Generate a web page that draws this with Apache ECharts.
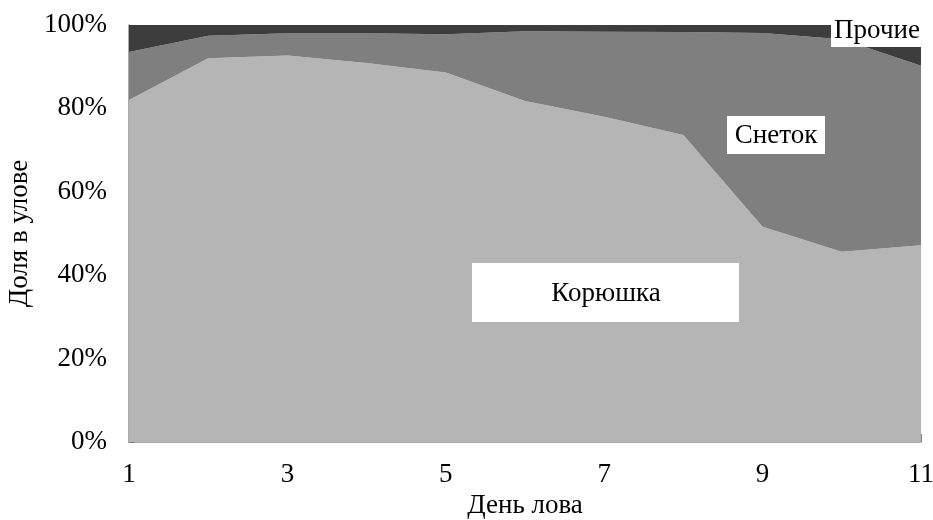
<!DOCTYPE html>
<html>
<head>
<meta charset="utf-8">
<script src="https://cdn.jsdelivr.net/npm/echarts@6/dist/echarts.min.js"></script>
<style>html,body{margin:0;padding:0;background:#fff}#c{width:933px;height:520px}</style>
</head>
<body>
<div id="c"></div>
<script>
const days = ['1','2','3','4','5','6','7','8','9','10','11'];
const koryushka = [82.0, 92.0, 92.7, 90.9, 88.6, 81.8, 78.0, 73.6, 51.6, 45.6, 47.2];
const snetok = [11.5, 5.4, 5.3, 7.1, 9.2, 16.7, 20.4, 24.7, 46.5, 51.0, 43.0];
const prochie = [6.5, 2.6, 2.0, 2.0, 2.2, 1.5, 1.6, 1.7, 1.9, 3.4, 9.8];
const yTicks = [0, 20, 40, 60, 80, 100];

const FONT = '"Liberation Serif", "Times New Roman", serif';
const chart = echarts.init(document.getElementById('c'), null, {renderer: 'canvas'});

function areaSeries(name, data, color) {
  return {
    name: name, type: 'line', stack: 'total', data: data,
    symbol: 'none', smooth: false,
    lineStyle: {width: 0, color: color},
    areaStyle: {color: color, opacity: 1},
    silent: true
  };
}

chart.setOption({
  animation: false,
  textStyle: {fontFamily: FONT},
  grid: {left: 129, right: 12, top: 25, bottom: 78, containLabel: false, outerBoundsMode: 'none'},
  xAxis: {
    type: 'category', data: days, boundaryGap: false,
    name: 'День лова', nameLocation: 'middle', nameGap: 50,
    nameTextStyle: {fontFamily: FONT, fontSize: 27, color: '#000'},
    axisLine: {lineStyle: {color: '#8c8c8c', width: 1.5}},
    axisTick: {inside: true, length: 8, interval: 0, lineStyle: {color: '#808080'}},
    axisLabel: {interval: 1, margin: 19, fontFamily: FONT, fontSize: 27, color: '#000'},
    splitLine: {show: false}
  },
  yAxis: {
    type: 'value', min: yTicks[0], max: yTicks[yTicks.length - 1], interval: 20,
    name: 'Доля в улове', nameLocation: 'middle', nameGap: 94, nameRotate: 90,
    nameTextStyle: {fontFamily: FONT, fontSize: 27, color: '#000'},
    axisLine: {show: true, lineStyle: {color: '#8c8c8c', width: 1.5}},
    axisTick: {show: true, inside: true, length: 6, lineStyle: {color: '#808080'}},
    axisLabel: {formatter: '{value}%', margin: 22, fontFamily: FONT, fontSize: 27, color: '#000'},
    splitLine: {show: false}
  },
  series: [
    areaSeries('Корюшка', koryushka, '#b5b5b5'),
    areaSeries('Снеток', snetok, '#7f7f7f'),
    areaSeries('Прочие', prochie, '#3d3d3d')
  ],
  graphic: [
    {type: 'rect', z: 100, shape: {x: 472, y: 263, width: 267, height: 59}, style: {fill: '#fff'}},
    {type: 'text', z: 101, x: 606, y: 294, style: {text: 'Корюшка', font: '27px ' + FONT, fill: '#000', align: 'center', verticalAlign: 'middle'}},
    {type: 'rect', z: 100, shape: {x: 727, y: 116, width: 98, height: 38}, style: {fill: '#fff'}},
    {type: 'text', z: 101, x: 776, y: 136, style: {text: 'Снеток', font: '27px ' + FONT, fill: '#000', align: 'center', verticalAlign: 'middle'}},
    {type: 'rect', z: 100, shape: {x: 831, y: 15, width: 90, height: 32}, style: {fill: '#fff'}},
    {type: 'text', z: 101, x: 877, y: 31, style: {text: 'Прочие', font: '27px ' + FONT, fill: '#000', align: 'center', verticalAlign: 'middle'}}
  ]
});
</script>
</body>
</html>
